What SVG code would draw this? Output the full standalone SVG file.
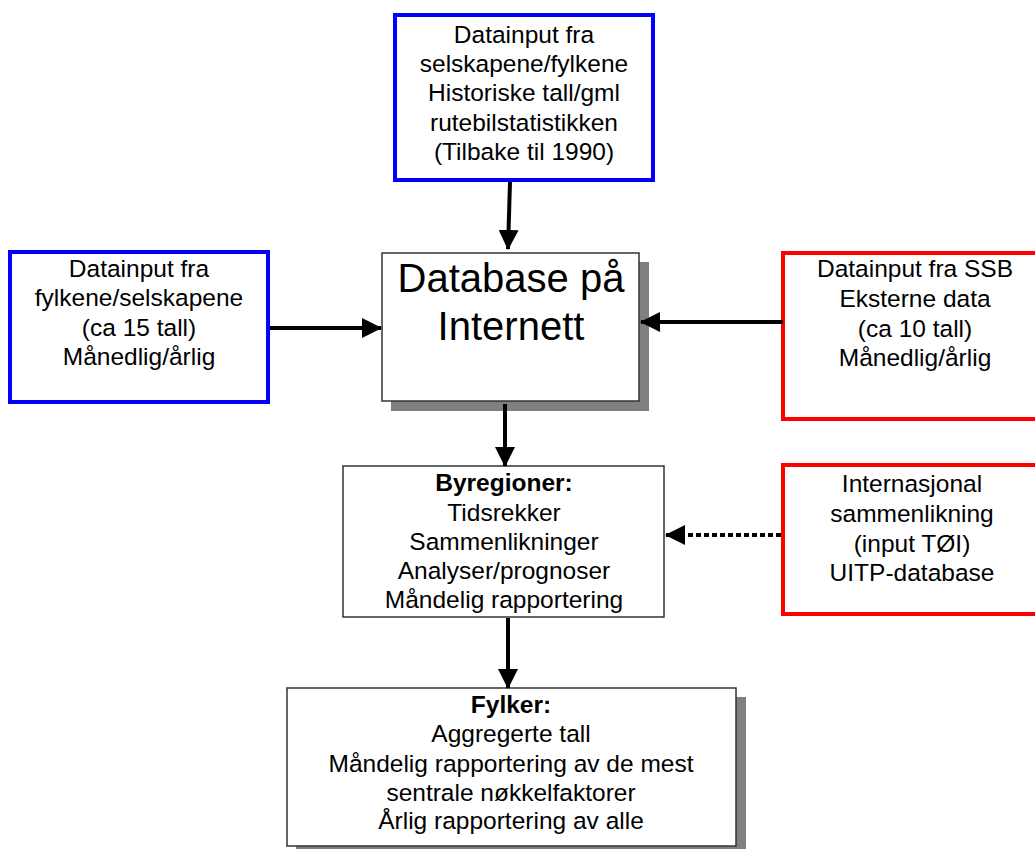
<svg xmlns="http://www.w3.org/2000/svg" width="1035" height="849" viewBox="0 0 1035 849">
<defs>
<marker id="ah" markerUnits="userSpaceOnUse" markerWidth="20" markerHeight="20" refX="19" refY="10" orient="auto" viewBox="0 0 20 20">
<path d="M0,0 L20,10 L0,20 z" fill="#000"/>
</marker>
</defs>
<style>
text{font-family:"Liberation Sans",Arial,sans-serif;font-size:24.5px;fill:#000;text-anchor:middle}
.big{font-size:40px}
.b{font-weight:bold}
.blue{fill:#fff;stroke:#0000ff;stroke-width:4}
.red{fill:#fff;stroke:#ff0000;stroke-width:4}
.plain{fill:#fff;stroke:#333;stroke-width:1.5}
.shadow{fill:#808080}
.conn{stroke:#000;stroke-width:4;fill:none;marker-end:url(#ah)}
.dot{stroke-dasharray:5 3}
</style>
<rect width="1035" height="849" fill="#fff"/>
<g id="top-input">
<rect class="blue" x="395" y="15" width="258" height="165"/>
<text x="524" y="43">Datainput fra</text>
<text x="524" y="72">selskapene/fylkene</text>
<text x="524" y="101">Historiske tall/gml</text>
<text x="524" y="131">rutebilstatistikken</text>
<text x="524" y="160">(Tilbake til 1990)</text>
</g>
<g id="left-input">
<rect class="blue" x="10" y="252" width="258" height="150"/>
<text x="139" y="277">Datainput fra</text>
<text x="139" y="306">fylkene/selskapene</text>
<text x="139" y="336">(ca 15 tall)</text>
<text x="139" y="365">Månedlig/årlig</text>
</g>
<g id="database">
<rect class="shadow" x="391" y="262" width="258" height="149"/>
<rect class="plain" x="382" y="253" width="257" height="148"/>
<text class="big" x="511" y="292">Database på</text>
<text class="big" x="511" y="340">Internett</text>
</g>
<g id="ssb-input">
<rect class="red" x="783" y="253" width="270" height="166"/>
<text x="915" y="277">Datainput fra SSB</text>
<text x="915" y="307">Eksterne data</text>
<text x="915" y="337">(ca 10 tall)</text>
<text x="915" y="366">Månedlig/årlig</text>
</g>
<g id="byregioner">
<rect class="plain" x="343" y="466" width="321" height="151"/>
<text class="b" x="504" y="491">Byregioner:</text>
<text x="504" y="521">Tidsrekker</text>
<text x="504" y="550">Sammenlikninger</text>
<text x="504" y="579">Analyser/prognoser</text>
<text x="504" y="608">Måndelig rapportering</text>
</g>
<g id="internasjonal">
<rect class="red" x="783" y="465" width="270" height="149"/>
<text x="912" y="492">Internasjonal</text>
<text x="912" y="522">sammenlikning</text>
<text x="912" y="552">(input TØI)</text>
<text x="912" y="581">UITP-database</text>
</g>
<g id="fylker">
<rect class="shadow" x="296" y="697" width="450" height="160"/>
<rect class="plain" x="287" y="688" width="449" height="158"/>
<text class="b" x="511" y="713">Fylker:</text>
<text x="511" y="742">Aggregerte tall</text>
<text x="511" y="772">Måndelig rapportering av de mest</text>
<text x="511" y="801">sentrale nøkkelfaktorer</text>
<text x="511" y="829">Årlig rapportering av alle</text>
</g>
<g id="connectors">
<line class="conn" x1="510" y1="182" x2="508" y2="249"/>
<line class="conn" x1="270" y1="328" x2="381" y2="328"/>
<line class="conn" x1="783" y1="322" x2="641" y2="322"/>
<line class="conn" x1="505" y1="404" x2="505" y2="466"/>
<line class="conn" x1="508" y1="618" x2="508" y2="688"/>
<line class="conn dot" x1="781" y1="535" x2="666" y2="535"/>
</g>
</svg>
